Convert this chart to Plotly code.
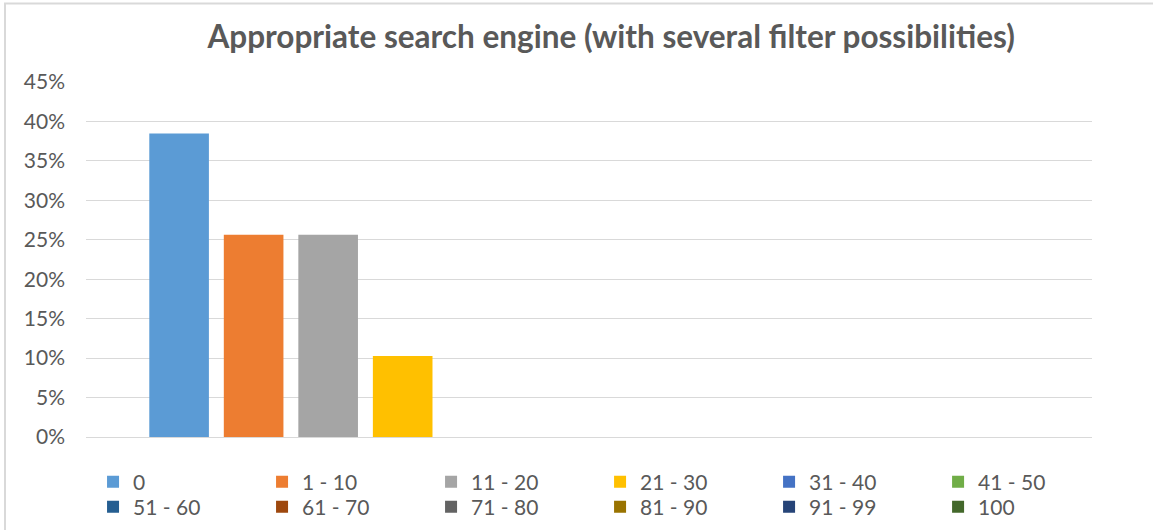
import plotly.graph_objects as go

# answer groups and their share of responses
groups = ["0", "1 - 10", "11 - 20", "21 - 30", "31 - 40", "41 - 50",
          "51 - 60", "61 - 70", "71 - 80", "81 - 90", "91 - 99", "100"]
shares = [0.3846, 0.2564, 0.2564, 0.1026, 0, 0, 0, 0, 0, 0, 0, 0]
colors = ["#5B9BD5", "#ED7D31", "#A5A5A5", "#FFC000", "#4472C4", "#70AD47",
          "#255E91", "#9E480E", "#636363", "#997300", "#264478", "#43682B"]
yticks = [0, 0.05, 0.10, 0.15, 0.20, 0.25, 0.30, 0.35, 0.40, 0.45]
ytext = ["0%", "5%", "10%", "15%", "20%", "25%", "30%", "35%", "40%", "45%"]

txt = "#595959"
grid = "#D9D9D9"
ncol = 6

fig = go.Figure()
legends = {}
for i, (g, v, c) in enumerate(zip(groups, shares, colors)):
    # one tiny legend per entry so the 6 x 2 grid sits exactly like Excel's
    lname = "legend" if i == 0 else "legend%d" % (i + 1)
    fig.add_trace(go.Bar(x=[""], y=[v], name=g, marker_color=c, marker_line_width=0,
                         legend=lname))
    col, row = i % ncol, i // ncol
    legends[lname] = dict(orientation="v", x=0.007 + col * 0.168, xanchor="left",
                          y=-0.127 - row * 0.0705, yanchor="middle",
                          font=dict(size=21, color=txt), itemclick=False,
                          bgcolor="rgba(0,0,0,0)")

fig.update_layout(
    width=1153, height=530,
    margin=dict(l=86, r=61, t=82, b=93, autoexpand=False),
    paper_bgcolor="white", plot_bgcolor="white",
    font=dict(family="Lato", size=21, color=txt),
    title=dict(text="<b>Appropriate search engine (with several filter possibilities)</b>",
               font=dict(size=31.5, color=txt), x=0.53, xanchor="center",
               y=0.93, yanchor="middle"),
    barmode="group", bargap=0.111, bargroupgap=0.2,
    showlegend=True,
    xaxis=dict(showticklabels=False, showgrid=False, zeroline=False, showline=False),
    yaxis=dict(range=[0, 0.45], tickvals=yticks, ticktext=ytext, showgrid=True,
               gridcolor=grid, gridwidth=1, zeroline=True, zerolinecolor=grid,
               zerolinewidth=1, showline=False, ticks="", ticklabelstandoff=20,
               automargin=False),
    shapes=[
        dict(type="rect", xref="paper", yref="paper", x0=-0.0805, x1=1.3, y0=-0.4, y1=1.221,
             line=dict(color=grid, width=2), fillcolor="rgba(0,0,0,0)", layer="above"),
    ],
    **legends,
)

fig.write_html("out.html", config={"displayModeBar": False},
               post_script="document.body.style.margin='0px';")
